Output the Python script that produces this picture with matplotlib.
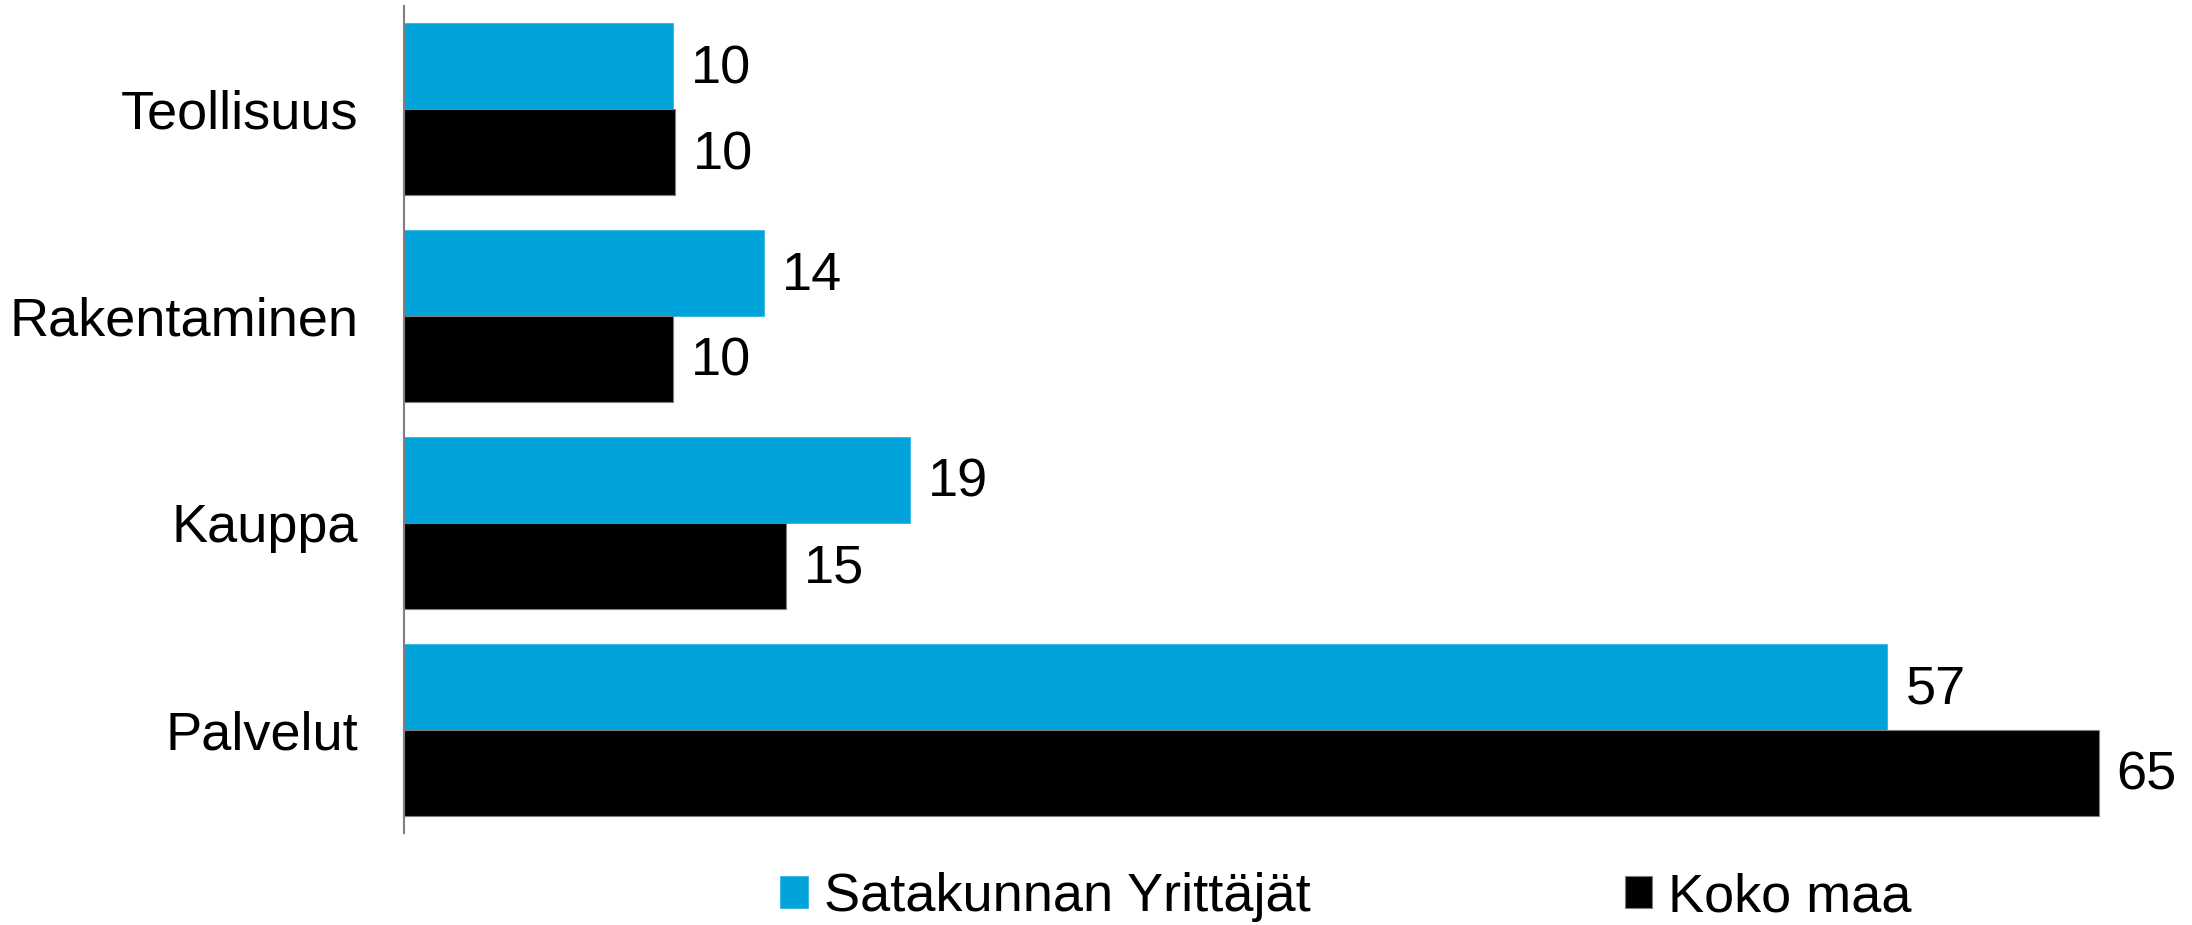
import numpy as np
import matplotlib
matplotlib.use("Agg")
import matplotlib.pyplot as plt

# Toimialat ja osuudet (%)
toimialat = ["Teollisuus", "Rakentaminen", "Kauppa", "Palvelut"]
satakunta = [10.3, 13.8, 19.4, 56.9]
koko_maa = [10.4, 10.3, 14.65, 65.0]
sarjat = ["Satakunnan Yrittäjät", "Koko maa"]

sininen = "#00A3DA"
musta = "#000000"

plt.rcParams["font.family"] = ["Liberation Sans", "DejaVu Sans"]
fs = 39

fig = plt.figure(figsize=(21.92, 9.25), dpi=100)
ax = fig.add_axes([404 / 2192, 92 / 925, (2180 - 404) / 2192, 827 / 925])

y = np.arange(len(toimialat))
h = 86 / 207

b1 = ax.barh(y - h / 2, satakunta, height=h, color=sininen, edgecolor="#33b5e0", linewidth=0.6, label=sarjat[0])
b2 = ax.barh(y + h / 2, koko_maa, height=h, color=musta, edgecolor="#7f7f7f", linewidth=0.8, label=sarjat[1])

for bars, vals in [(b1, satakunta), (b2, koko_maa)]:
    for bar, v in zip(bars, vals):
        ax.annotate(f"{v:.0f}", (bar.get_width(), bar.get_y() + bar.get_height() / 2),
                    xytext=(13, -2), textcoords="offset points",
                    ha="left", va="center", fontsize=fs, color="black")

ax.set_xlim(0, (2180 - 404) / 26.07)
ax.set_ylim(3.5, -0.5)
ax.set_yticks(y)
ax.set_yticklabels(toimialat, fontsize=fs)
ax.tick_params(axis="y", length=0, pad=33)
ax.set_xticks([])

for s in ["top", "right", "bottom"]:
    ax.spines[s].set_visible(False)
ax.spines["left"].set_color("#808080")
ax.spines["left"].set_linewidth(1.5)

fig.legend(handles=[b1, b2], loc="center", bbox_to_anchor=(1346 / 2192, 1 - 897 / 925),
           ncol=2, frameon=False, fontsize=39, handlelength=0.5, handleheight=0.55,
           handletextpad=0.3, columnspacing=5.8)

fig.savefig("out.png", dpi=100)
